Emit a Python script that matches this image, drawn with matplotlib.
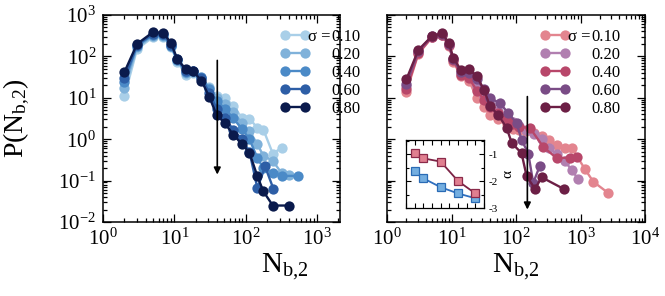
import matplotlib
matplotlib.use("Agg")
import matplotlib.pyplot as plt
import matplotlib.ticker as mticker

plt.rcParams['font.family'] = ['Liberation Serif', 'DejaVu Serif']
plt.rcParams['mathtext.fontset'] = 'custom'
plt.rcParams['mathtext.rm'] = 'Liberation Serif'
plt.rcParams['mathtext.it'] = 'Liberation Serif:italic'
plt.rcParams['mathtext.bf'] = 'Liberation Serif:bold'
plt.rcParams['axes.unicode_minus'] = False

# ---------------- data ----------------
sigma_labels = ["0.10", "0.20", "0.40", "0.60", "0.80"]
blue_colors = ["#a9cfe8", "#80b2da", "#4b8ac7", "#2d5ea6", "#0a1a4c"]
red_colors = ["#e3858f", "#b17fb0", "#b8476a", "#7a4c86", "#6c1f45"]

# left panel (blue)
bx_010 = [2, 3, 5, 7, 9, 11, 14.5, 18, 24, 31, 39, 51, 67, 88, 113, 146, 177, 240, 320]
by_010 = [11, 150, 290, 300, 170, 75, 36, 40, 30, 18, 11, 10, 6.5, 3.3, 3.1, 1.9, 1.7, 0.45, 0.62]
bx_020 = [2, 3, 5, 7, 9, 11, 14.5, 18, 24, 31, 39, 51, 67, 88, 113, 146, 177, 240, 320, 410]
by_020 = [17, 165, 310, 310, 175, 80, 40, 42, 30, 17, 10, 7, 4.5, 2.5, 1.6, 0.75, 0.4, 0.3, 0.15, 0.14]
bx_040 = [2, 3, 5, 7, 9, 11, 14.5, 18, 24, 31, 39, 51, 67, 88, 113, 146, 177, 240, 320, 550]
by_040 = [24, 180, 330, 320, 180, 82, 42, 44, 32, 16, 8.5, 5.5, 3.2, 1.8, 1.0, 0.35, 0.2, 0.15, 0.13, 0.13]
bx_060 = [2, 3, 5, 7, 9, 11, 14.5, 18, 24, 31, 39, 51, 67, 88, 113, 146, 187, 245]
by_060 = [30, 190, 350, 340, 190, 85, 45, 45, 30, 13, 5.5, 3.2, 1.7, 1.0, 0.5, 0.065, 0.22, 0.063]
bx_080 = [2, 3, 5, 7, 9, 11, 14.5, 18, 24, 31, 39, 51, 67, 88, 113, 146, 177, 240, 410]
by_080 = [42, 200, 383, 374, 208, 86, 49, 45, 26, 10.4, 3.9, 2.45, 1.28, 0.78, 0.47, 0.127, 0.055, 0.025, 0.025]

# right panel (red)
rx_010 = [2, 3.06, 5, 7.2, 9.1, 10.7, 14, 18.7, 24.6, 32, 39.5, 53, 71.7, 91, 112, 143, 192, 250, 330, 425, 575, 733, 1170, 1580, 2700]
ry_010 = [14, 115, 290, 320, 180, 75, 33, 26, 10, 6.0, 3.8, 3.0, 2.3, 1.8, 1.7, 1.6, 1.45, 1.2, 0.95, 0.72, 0.62, 0.62, 0.19, 0.094, 0.05]
rx_020 = [2, 3.06, 5, 7.2, 9.1, 10.7, 14, 18.7, 24.6, 32, 39.5, 53, 71.7, 91, 112, 143, 192, 250, 330, 425, 575, 733, 925]
ry_020 = [19, 125, 300, 330, 190, 85, 40, 36, 19, 11, 7, 4.8, 3.4, 2.6, 2.1, 1.7, 1.3, 1.0, 0.6, 0.45, 0.29, 0.18, 0.107]
rx_040 = [2, 3.06, 5, 7.2, 9.1, 10.7, 14, 18.7, 24.6, 32, 39.5, 53, 71.7, 91, 112, 165, 265, 425, 690, 870]
ry_040 = [16, 120, 295, 325, 185, 80, 36, 30, 15, 9, 6, 4.2, 3.0, 2.3, 2.0, 1.86, 0.65, 0.35, 0.36, 0.38]
rx_060 = [2, 3.06, 5, 7.2, 9.1, 10.7, 14, 18.7, 24.6, 32, 39.5, 56, 76, 102, 122, 155, 185, 235]
ry_060 = [22, 135, 310, 340, 195, 85, 42, 40, 28, 16, 10, 7.4, 4.3, 2.45, 0.97, 0.45, 0.088, 0.23]
rx_080 = [2, 3.06, 5, 7.2, 9.1, 10.7, 14, 18.7, 24.6, 32, 39.5, 53, 71.7, 86, 122, 146, 197, 250, 560]
ry_080 = [28, 143, 312, 362, 208, 91, 47, 49, 33, 15.6, 6.2, 3.9, 1.86, 0.81, 0.46, 0.128, 0.063, 0.12, 0.062]

# inset (exponent alpha vs sigma)
inset_sigma = [0.1, 0.2, 0.4, 0.6, 0.8]
alpha_blue = [-1.63, -1.90, -2.23, -2.46, -2.64]
alpha_red = [-0.97, -1.16, -1.28, -2.00, -2.46]

# arrows (x, y_start, y_end)
left_arrow = [40, 80, 0.14]
right_arrow = [150, 10.7, 0.02]

blue_series = [(bx_010, by_010), (bx_020, by_020), (bx_040, by_040), (bx_060, by_060), (bx_080, by_080)]
red_series = [(rx_010, ry_010), (rx_020, ry_020), (rx_040, ry_040), (rx_060, ry_060), (rx_080, ry_080)]

# ---------------- figure ----------------
W, H = 665, 296
fig = plt.figure(figsize=(W / 100, H / 100), dpi=100)

def px_axes(x0, y0, x1, y1):
    return fig.add_axes([x0 / W, 1 - y1 / H, (x1 - x0) / W, (y1 - y0) / H])

axL = px_axes(103, 15, 340, 222)
axR = px_axes(387, 15, 645, 222)

def style_log_axes(ax, xmax, show_ylabels):
    ax.set_xscale('log')
    ax.set_yscale('log')
    ax.set_xlim(1, xmax)
    ax.set_ylim(1e-2, 1e3)
    ax.xaxis.set_major_locator(mticker.LogLocator(base=10, numticks=10))
    ax.xaxis.set_minor_locator(mticker.LogLocator(base=10, subs=range(2, 10), numticks=10))
    ax.yaxis.set_major_locator(mticker.LogLocator(base=10, numticks=10))
    ax.yaxis.set_minor_locator(mticker.LogLocator(base=10, subs=range(2, 10), numticks=10))
    ax.xaxis.set_minor_formatter(mticker.NullFormatter())
    ax.yaxis.set_minor_formatter(mticker.NullFormatter())
    ax.tick_params(which='both', direction='in', top=True, right=True, width=0.9)
    ax.tick_params(which='major', length=5.5, labelsize=15, pad=5)
    ax.tick_params(which='minor', length=3)
    if not show_ylabels:
        ax.tick_params(axis='y', labelleft=False)
    for s in ax.spines.values():
        s.set_linewidth(1.1)

style_log_axes(axL, 2100, True)
style_log_axes(axR, 1e4, False)

def plot_panel(ax, series, colors):
    handles = []
    for (x, y), c in zip(series, colors):
        h, = ax.plot(x, y, '-o', color=c, lw=1.7, ms=7.4, mec=c, mew=0)
        handles.append(h)
    return handles

hL = plot_panel(axL, blue_series, blue_colors)
hR = plot_panel(axR, red_series, red_colors)

for ax, arr in ((axL, left_arrow), (axR, right_arrow)):
    ax.annotate('', xy=(arr[0], arr[2]), xytext=(arr[0], arr[1]),
                arrowprops=dict(arrowstyle='-|>', color='black', lw=1.2,
                                mutation_scale=10, shrinkA=0, shrinkB=0))

sub = r'$_{\mathrm{b{,}2}}$'
axL.set_ylabel('P(N' + sub + ')', fontsize=20)
axL.yaxis.set_label_coords(-0.30, 0.5)
for ax, xc in ((axL, 0.765), (axR, 0.5)):
    ax.set_xlabel('N' + sub, fontsize=21)
    ax.xaxis.set_label_coords(xc, -0.14)

LFS = 12
legs = []
for ax, handles, xpx in ((axL, hL, 280.0), (axR, hR, 540.0)):
    leg = ax.legend(handles, sigma_labels, loc='upper left',
                    bbox_to_anchor=(xpx / W, 1 - 29 / H), bbox_transform=fig.transFigure,
                    frameon=False, fontsize=LFS, numpoints=2, handlelength=1.8,
                    handletextpad=1.3, labelspacing=0.12, borderpad=0, borderaxespad=0)
    legs.append(leg)

# inset
axI = px_axes(406, 140, 484, 208)
axI.plot(inset_sigma, alpha_blue, '-s', color='#2f6fbf', lw=1.3, ms=6,
         mfc='#74aee0', mec='#2a6bb5', mew=0.9)
axI.plot(inset_sigma, alpha_red, '-s', color='#7b2345', lw=1.3, ms=6,
         mfc='#e07f90', mec='#8b2a4a', mew=0.9)
axI.set_xlim(0, 0.9)
axI.set_ylim(-3, -0.48)
axI.xaxis.set_major_locator(mticker.MultipleLocator(0.1))
axI.yaxis.set_major_locator(mticker.MultipleLocator(1))
axI.yaxis.set_minor_locator(mticker.MultipleLocator(0.5))
axI.tick_params(which='both', direction='in', top=True, right=True, left=True,
                labelbottom=False, labelleft=False, labelright=True, width=0.8)
axI.tick_params(which='major', length=3.5, labelsize=8, pad=3)
axI.tick_params(which='minor', length=2)
axI.yaxis.set_major_formatter(mticker.FuncFormatter(lambda v, p: '%d' % v))
axI.yaxis.set_label_position('right')
axI.set_ylabel('α', fontsize=11, rotation=90, labelpad=3)
for s in axI.spines.values():
    s.set_linewidth(0.9)

# "σ =" prefix in front of first legend entry
fig.canvas.draw()
r = fig.canvas.get_renderer()
for leg in legs:
    t = leg.get_texts()[0]
    bb = t.get_window_extent(r)
    fig.text((bb.x0 - 1.5) / W, bb.y0 / H, 'σ =', ha='right', va='bottom',
             fontsize=LFS)

fig.savefig('out.png', dpi=100)
